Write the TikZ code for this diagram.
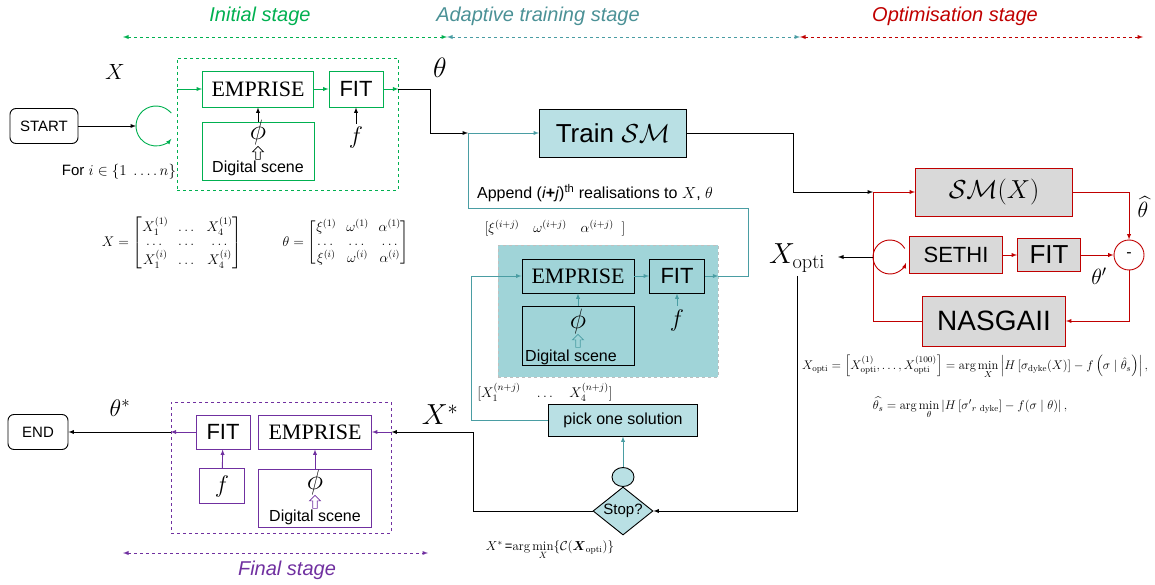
\RequirePackage{fix-cm}
\documentclass[tikz,border=0pt]{standalone}
\usepackage{amsmath}
\usepackage{fontspec}
\setsansfont{Liberation Sans}
\newfontfamily\empfont{Liberation Serif}
\renewcommand{\familydefault}{\sfdefault}
\usetikzlibrary{shapes.geometric,shapes.arrows}
\definecolor{grn}{RGB}{0,176,80}
\definecolor{tealln}{RGB}{74,157,163}
\definecolor{tealtx}{RGB}{75,145,150}
\definecolor{ltteal}{RGB}{185,224,228}
\definecolor{dkteal}{RGB}{160,212,216}
\definecolor{rd}{RGB}{192,0,0}
\definecolor{gry}{RGB}{217,217,217}
\definecolor{prp}{RGB}{112,48,160}
\newcommand{\fsz}[1]{\fontsize{#1}{#1}\selectfont}

\begin{document}
\begin{tikzpicture}[x=1pt,y=-1pt,>=latex,line width=0.9pt,
    box/.style={draw,inner sep=0pt},
    emp/.style={box,font=\empfont\fsz{22}},
    fit/.style={box,font=\fsz{22}},
    term/.style={box,rounded corners=6pt,font=\fsz{15}},
    upar/.style={single arrow,draw,rotate=90,minimum height=13pt,minimum width=11pt,
        single arrow head extend=2pt,inner sep=1pt,line width=0.7pt},
    stage/.style={font=\itshape\fsz{20}}]
    \useasboundingbox (0,0) rectangle (1155,585);
    % stages begin
    \node[stage,text=grn] (ini) at (260,16) {Initial stage};
    \node[stage,text=tealtx] (ada) at (538,16) {Adaptive training stage};
    \node[stage,text=rd] (opt) at (955,16) {Optimisation stage};
    \coordinate (s0) at (123,37);
    \coordinate (s1) at (447,37);
    \coordinate (s2) at (800,37);
    \coordinate (s3) at (1143,37);
    \draw[grn,dashed,<->] (s0) -- (s1);
    \draw[tealln,dashed,<->] (s1) -- (s2);
    \draw[rd,dashed,<->] (s2) -- (s3);
    % stages end

    % initial stage begin
    \node[term,minimum width=68pt,minimum height=35pt] (start) at (44,126) {START};
    \coordinate (lp1) at (156,126);
    \coordinate (lp1w) at (136,126);
    \draw[->] (start) -- (lp1w);
    \draw[grn,->] (lp1) ++(-40:20) arc[start angle=-40,end angle=-320,radius=20];
    \node[box,draw=grn,dashed,minimum width=221pt,minimum height=132pt] (inibox) at (287.5,124) {};
    \node[emp,draw=grn,minimum width=111pt,minimum height=36pt] (emp1) at (258,89) {EMPRISE};
    \node[fit,draw=grn,minimum width=54pt,minimum height=36pt] (fit1) at (356,89) {FIT};
    \node[box,draw=grn,minimum width=112pt,minimum height=58pt] (ds1) at (258,151) {};
    \node[font=\fsz{28},inner sep=0pt] (phi1) at (258,133) {$\phi$};
    \node[upar] (up1) at (258,154) {};
    \node[font=\fsz{16}] (dst1) at (258,168) {Digital scene};
    \node[font=\fsz{24}] (f1) at (356,138) {$f$};
    \draw[->] (ds1) -- (emp1);
    \draw[->] (f1) -- (fit1);
    \draw[grn,->] (inibox.west |- emp1) -- (emp1);
    \draw[grn,->] (emp1) -- (fit1);
    \draw[grn,->] (fit1) -- (inibox.east |- fit1);
    \coordinate (k1) at (430,89);
    \coordinate (tj) at (468,133);
    \draw[->] (inibox.east |- fit1) -- (k1) |- (tj);
    \node[font=\fsz{22}] (xlb) at (115,72) {$X$};
    \node[font=\fsz{28}] (thlb) at (440,68) {$\theta$};
    \node[font=\fsz{15}] (forlb) at (119,172) {For $i\in\{1\ \ldots.\,n\}$};
    \node[font=\fsz{14}] (xmat) at (172,243) {$X=\begin{bmatrix}X_1^{(1)} & \dots & X_4^{(1)}\\ \dots & \dots & \dots\\ X_1^{(i)} & \dots & X_4^{(i)}\end{bmatrix}$};
    \node[font=\fsz{14}] (tmat) at (346,243) {$\theta=\begin{bmatrix}\xi^{(1)} & \omega^{(1)} & \alpha^{(1)}\\ \dots & \dots & \dots\\ \xi^{(i)} & \omega^{(i)} & \alpha^{(i)}\end{bmatrix}$};
    % initial stage end

    % adaptive training begin
    \node[box,fill=ltteal,minimum width=147pt,minimum height=48pt,font=\fsz{26}] (train) at (613,133) {Train $\mathcal{SM}$};
    \node[font=\fsz{16}] (app) at (595,193) {Append (\textit{i}\textbf{+}\textit{j})\textsuperscript{th} realisations to $X$, $\theta$};
    \node[font=\fsz{14}] (vxi) at (555,228) {$[\xi^{(i+j)}\quad \omega^{(i+j)}\quad \alpha^{(i+j)}\ \ ]$};
    \node[box,fill=dkteal,draw=gray!50,dashed,line width=0.6pt,minimum width=220pt,minimum height=132pt] (shbox) at (608,311) {};
    \node[emp,minimum width=112pt,minimum height=34pt] (emp2) at (578,276) {EMPRISE};
    \node[fit,minimum width=55pt,minimum height=34pt] (fit2) at (677,276) {FIT};
    \node[box,minimum width=112pt,minimum height=59pt] (ds2) at (578,336) {};
    \node[font=\fsz{28},inner sep=0pt] (phi2) at (578,321) {$\phi$};
    \node[upar,draw=tealln,fill=dkteal] (up2) at (578,342) {};
    \node[font=\fsz{16}] (dst2) at (571,357) {Digital scene};
    \node[font=\fsz{24}] (f2) at (677,320) {$f$};
    \draw[tealln,->] (ds2) -- (emp2);
    \draw[tealln,->] (f2) -- (fit2);
    \draw[tealln,->] (emp2) -- (fit2);
    \draw[tealln,->] (fit2) -- (shbox.east |- fit2);
    \coordinate (k2) at (748,208);
    \draw[tealln,->] (shbox.east |- fit2) -| (k2) -| (tj) -- (train);
    \node[font=\fsz{14}] (vxn) at (545,392) {$[X_1^{(n+j)}\quad\dots\quad X_4^{(n+j)}]$};
    \node[box,fill=ltteal,minimum width=149pt,minimum height=32pt,font=\fsz{16}] (pick) at (623,420) {pick one solution};
    \coordinate (k4) at (471,276);
    \draw[tealln,->] (pick) -| (k4) -- (emp2);
    \node[ellipse,box,fill=ltteal,minimum width=22pt,minimum height=19pt] (cir) at (623,477) {};
    \node[diamond,box,fill=ltteal,minimum width=60pt,minimum height=48pt,aspect=1.25,font=\fsz{15}] (stop) at (623,511) {Stop?};
    \draw[tealln,->] (cir) -- (pick);
    \node[font=\fsz{13}] (xsf) at (550,550) {$X^{*}$\,=$\mathrm{arg}\min\limits_X\{\mathcal{C}(\boldsymbol{X}_{\mathrm{opti}})\}$};
    % adaptive training end

    % optimisation begin
    \node[font=\fsz{29}] (xopti) at (797,258) {$X_{\mathrm{opti}}$};
    \coordinate (k6) at (793,192);
    \coordinate (rj) at (873,192);
    \draw[->] (train) -| (k6) -- (rj);
    \node[box,draw=rd,fill=gry,minimum width=157pt,minimum height=48pt,font=\fsz{26}] (smx) at (994,192) {$\mathcal{SM}(X)$};
    \node[box,draw=rd,fill=gry,minimum width=93pt,minimum height=37pt,font=\fsz{22}] (sethi) at (956,255) {SETHI};
    \node[box,draw=rd,fill=gry,minimum width=63pt,minimum height=33pt,font=\fsz{26}] (fit3) at (1049,255) {FIT};
    \node[circle,box,draw=rd,minimum size=30pt,font=\fsz{16}] (mns) at (1129,255) {-};
    \node[box,draw=rd,fill=gry,minimum width=143pt,minimum height=50pt,font=\fsz{28}] (nsg) at (994,321) {NASGAII};
    \coordinate (lp2) at (890,257);
    \coordinate (lp2w) at (873,257);
    \coordinate (xoe) at (838,257);
    \draw[rd,->] (lp2) ++(-30:17) arc[start angle=-30,end angle=-340,radius=17];
    \draw[->] (lp2w) -- (xoe);
    \draw[rd,->] (rj) -- (smx);
    \draw[rd] (nsg) -| (rj);
    \draw[rd,->] (sethi) -- (fit3);
    \draw[rd,->] (fit3) -- (mns);
    \draw[rd,->] (smx) -| (mns);
    \draw[rd,->] (mns) |- (nsg);
    \node[font=\fsz{22},inner sep=0pt] (thh) at (1143,207) {$\widehat{\theta}$};
    \node[font=\fsz{22},inner sep=0pt] (thp) at (1099,276) {$\theta'$};
    \node[font=\fsz{12.5},inner sep=0pt] (eq1) at (975,367) {$X_{\mathrm{opti}}=\left[X^{(1)}_{\mathrm{opti}},\dots,X^{(100)}_{\mathrm{opti}}\right]=\arg\min\limits_X\left|H\left[\sigma_{\mathrm{dyke}}(X)\right]-f\left(\sigma\mid\hat{\theta}_s\right)\right|,$};
    \node[font=\fsz{12.5},inner sep=0pt] (eq2) at (970,408) {$\widehat{\theta_s}=\arg\min\limits_\theta\left|H\left[{\sigma'}_{r\ \mathrm{dyke}}\right]-f(\sigma\mid\theta)\right|,$};
    \draw[->] (xopti.south) |- (stop);
    % optimisation end

    % final stage begin
    \node[term,minimum width=60pt,minimum height=35pt] (end) at (38,432) {END};
    \node[box,draw=prp,dashed,minimum width=220pt,minimum height=131pt] (finbox) at (281,467.5) {};
    \node[fit,draw=prp,minimum width=54pt,minimum height=34pt] (fit4) at (223,432) {FIT};
    \node[emp,draw=prp,minimum width=113pt,minimum height=34pt] (emp4) at (315,432) {EMPRISE};
    \node[box,draw=prp,minimum width=45pt,minimum height=35pt,font=\fsz{24}] (fbx) at (222,486) {$f$};
    \node[box,draw=prp,minimum width=113pt,minimum height=58pt] (ds4) at (315,498) {};
    \node[font=\fsz{28},inner sep=0pt] (phi4) at (315,482) {$\phi$};
    \node[upar,draw=prp,fill=white] (up4) at (315,503) {};
    \node[font=\fsz{16}] (dst4) at (315,517) {Digital scene};
    \draw[prp,->] (fbx) -- (fit4);
    \draw[prp,->] (ds4) -- (emp4);
    \draw[prp,->] (fit4) -- (finbox.west |- fit4);
    \draw[->] (finbox.west |- fit4) -- (end);
    \draw[prp,->] (finbox.east |- emp4) -- (emp4);
    \coordinate (k5) at (473,432);
    \draw[->] (stop) -| (k5) -- (finbox.east |- k5);
    \node[font=\fsz{24}] (thst) at (120,408) {$\theta^{*}$};
    \node[font=\fsz{29}] (xst) at (440,415) {$X^{*}$};
    \node[stage,text=prp] (fin) at (287,570) {Final stage};
    \coordinate (s4) at (123,553);
    \coordinate (s5) at (428,553);
    \draw[prp,dashed,<->] (s4) -- (s5);
    % final stage end
\end{tikzpicture}
\end{document}
